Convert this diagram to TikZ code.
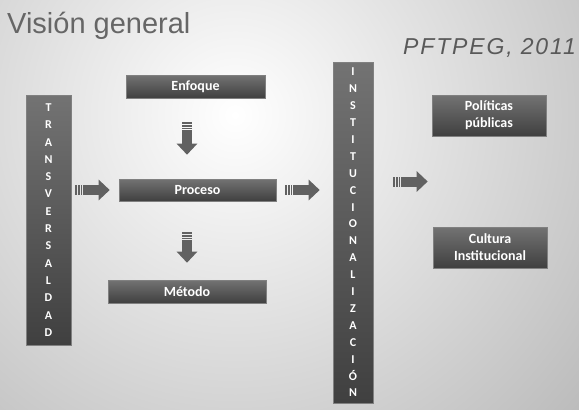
\documentclass[tikz,border=0pt]{standalone}
\usepackage{fontspec}
\setmainfont{Carlito}
\newfontfamily\titlefont{Liberation Sans}
\usetikzlibrary{arrows.meta,calc}
\begin{document}
\begin{tikzpicture}[x=1pt,y=-1pt,
  box/.style={draw=black!50, line width=0.6pt, top color=black!55, bottom color=black!75,
    text=white, font=\bfseries\fontsize{14}{17}\selectfont, align=center, inner sep=0pt},
  colbox/.style={box, font=\bfseries\fontsize{12}{#1}\selectfont},
  barrow/.style={line width=10pt, draw=black!62, -{Triangle[width=20pt,length=11pt]}},
  bstripe/.style={line width=10pt, draw=black!62, dash pattern=on 1.6pt off 1.2pt},
]
% background
\useasboundingbox (0,0) rectangle (579,410);
\fill[black!28] (0,0) rectangle (579,410);
\begin{scope}
  \clip (0,0) rectangle (579,410);
  \shade[inner color=white, outer color=black!28] (235,115) circle (480);
\end{scope}

% titles
\node[anchor=base west, inner sep=0pt, text=black!60,
  font=\titlefont\fontsize{29}{29}\selectfont] (title) at (7,33) {Visión general};
\node[anchor=base west, inner sep=0pt, text=black!65,
  font=\titlefont\itshape\fontsize{23}{23}\selectfont\addfontfeature{LetterSpace=8}] (ref) at (403,54) {PFTPEG, 2011};

% boxes
\node[colbox=17.3, minimum width=45, minimum height=250] (trans) at (48.5,220)
  {T\\R\\A\\N\\S\\V\\E\\R\\S\\A\\L\\D\\A\\D};
\node[box, minimum width=139, minimum height=23] (enfoque) at (195.5,86.5) {Enfoque};
\node[box, minimum width=157, minimum height=22] (proceso) at (197.5,190) {Proceso};
\node[box, minimum width=158, minimum height=23] (metodo) at (187,291.5) {Método};
\node[colbox=16.9, minimum width=40, minimum height=341] (inst) at (353,232.5)
  {I\\N\\S\\T\\I\\T\\U\\C\\I\\O\\N\\A\\L\\I\\Z\\A\\C\\I\\Ó\\N};
\node[box, minimum width=114, minimum height=41, font=\bfseries\fontsize{14}{17}\selectfont] (pol) at (489,115.5) {Políticas\\públicas};
\node[box, minimum width=114, minimum height=41, font=\bfseries\fontsize{14}{17}\selectfont] (cult) at (490,247.5) {Cultura\\Institucional};

% arrows
\draw[bstripe] ([xshift=4pt]trans.east |- proceso.west) -- ++(7,0);
\draw[barrow] ([xshift=12pt]trans.east |- proceso.west) -- ([xshift=-9pt]proceso.west);

\draw[bstripe] ([xshift=9pt]proceso.east) -- ++(7,0);
\draw[barrow] ([xshift=17pt]proceso.east) -- ([xshift=-13pt]inst.west |- proceso.east);

\coordinate (m3) at ($(pol.south)!.5!(cult.north)$);
\draw[bstripe] ([xshift=20pt]inst.east |- m3) -- ++(7,0);
\draw[barrow] ([xshift=28pt]inst.east |- m3) -- ([xshift=-4pt]pol.west |- m3);

\draw[bstripe] ([yshift=-24pt]metodo.north |- enfoque.south) -- ++(0,7);
\draw[barrow] ([yshift=-32pt]metodo.north |- enfoque.south) -- ([yshift=24pt]metodo.north |- proceso.north);

\draw[bstripe] ([yshift=-31pt]metodo.north |- proceso.south) -- ++(0,7);
\draw[barrow] ([yshift=-39pt]metodo.north |- proceso.south) -- ([yshift=17pt]metodo.north);
\end{tikzpicture}
\end{document}
